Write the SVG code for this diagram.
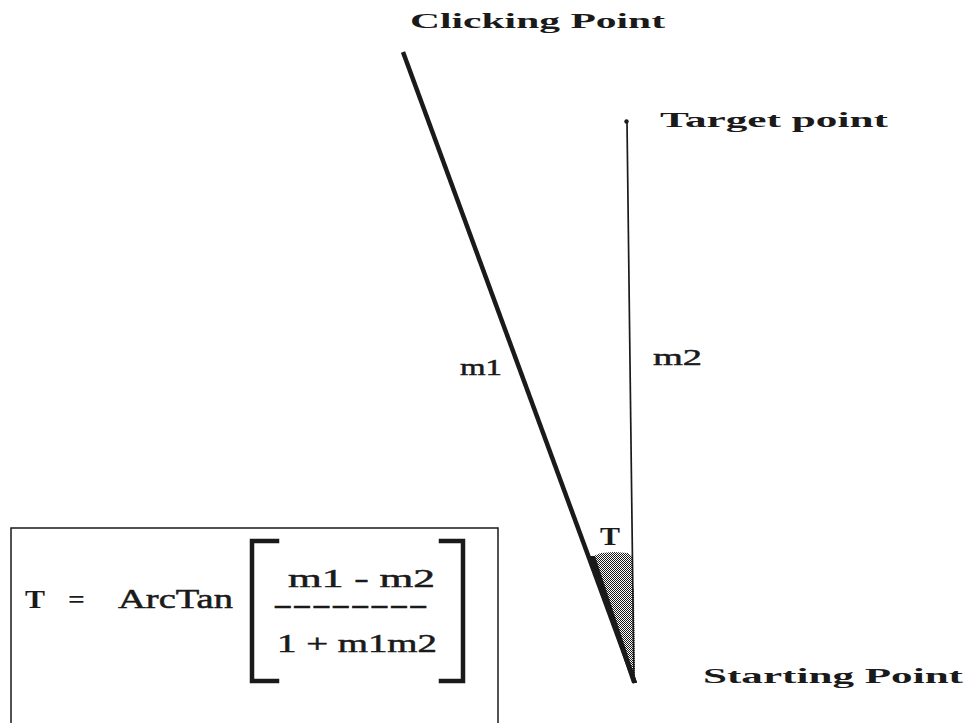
<svg xmlns="http://www.w3.org/2000/svg" width="968" height="723" viewBox="0 0 968 723">
  <defs>
    <!-- fine checker stipple used for the angle wedge -->
    <pattern id="stipple" width="2" height="2" patternUnits="userSpaceOnUse">
      <rect width="2" height="2" fill="#ffffff"/>
      <rect x="0" y="0" width="1" height="1" fill="#1a1a1a"/>
      <rect x="1" y="1" width="1" height="1" fill="#1a1a1a"/>
    </pattern>
  </defs>
  <style>
    .label { font-family: "Liberation Serif", "Times New Roman", serif; font-weight: bold; fill: #1a1a1a; }
    .math { font-family: "Liberation Serif", "Times New Roman", serif; fill: #1a1a1a; stroke: #1a1a1a; stroke-width: 0.5; }
    .thin { stroke: #1a1a1a; stroke-width: 1.7; fill: none; }
    .thick { stroke: #1a1a1a; stroke-width: 4.5; fill: none; }
    .bracket { stroke: #1a1a1a; stroke-width: 4.5; fill: none; stroke-linecap: square; }
  </style>
  <rect width="968" height="723" fill="#ffffff"/>

  <!-- angle wedge between the two lines -->
  <g id="angle">
    <polygon points="589,558 596,555 601,553 614,552 628,553 632,556 632,586 634,590 635,682 612,620" fill="url(#stipple)"/>
    <polygon points="589,556 595,556 637,683 632,683" fill="#1a1a1a"/>
    <text class="label" x="600" y="545" font-size="26" textLength="20" lengthAdjust="spacingAndGlyphs">T</text>
  </g>

  <g id="connectors">
    <!-- line m1: starting point to clicking point -->
    <line class="thick" x1="403" y1="52" x2="635" y2="683"/>
    <!-- line m2: starting point to target point -->
    <line class="thin" x1="627" y1="122" x2="634" y2="683"/>
  </g>

  <g id="clicking-point">
    <text class="label" x="410" y="28" font-size="21" textLength="255" lengthAdjust="spacingAndGlyphs">Clicking Point</text>
  </g>

  <g id="target-point">
    <circle cx="626.5" cy="121.5" r="2.2" fill="#1a1a1a"/>
    <text class="label" x="660" y="127" font-size="21" textLength="228" lengthAdjust="spacingAndGlyphs">Target point</text>
  </g>

  <g id="starting-point">
    <text class="label" x="703" y="683" font-size="22" textLength="260" lengthAdjust="spacingAndGlyphs">Starting Point</text>
  </g>

  <g id="slope-labels">
    <text class="math" x="460" y="375" font-size="24" textLength="42" lengthAdjust="spacingAndGlyphs">m1</text>
    <text class="math" x="653" y="365" font-size="24" textLength="49" lengthAdjust="spacingAndGlyphs">m2</text>
  </g>

  <g id="formula">
    <rect x="11" y="528" width="487" height="210" fill="none" stroke="#1a1a1a" stroke-width="1.5"/>
    <text class="label" x="25" y="608" font-size="26" textLength="20" lengthAdjust="spacingAndGlyphs">T</text>
    <text class="label" x="68" y="608" font-size="26" textLength="17" lengthAdjust="spacingAndGlyphs">=</text>
    <text class="math" x="118" y="608" font-size="27" textLength="115" lengthAdjust="spacingAndGlyphs">ArcTan</text>
    <polyline class="bracket" points="277,541 252,541 252,681 277,681"/>
    <polyline class="bracket" points="441,541 463,541 463,681 441,681"/>
    <text class="math" x="288" y="587" font-size="25" textLength="147" lengthAdjust="spacingAndGlyphs">m1 - m2</text>
    <text class="math" x="273" y="613" font-size="25" textLength="155" lengthAdjust="spacingAndGlyphs">--------</text>
    <text class="math" x="277" y="652" font-size="25" textLength="160" lengthAdjust="spacingAndGlyphs">1 + m1m2</text>
  </g>
</svg>
